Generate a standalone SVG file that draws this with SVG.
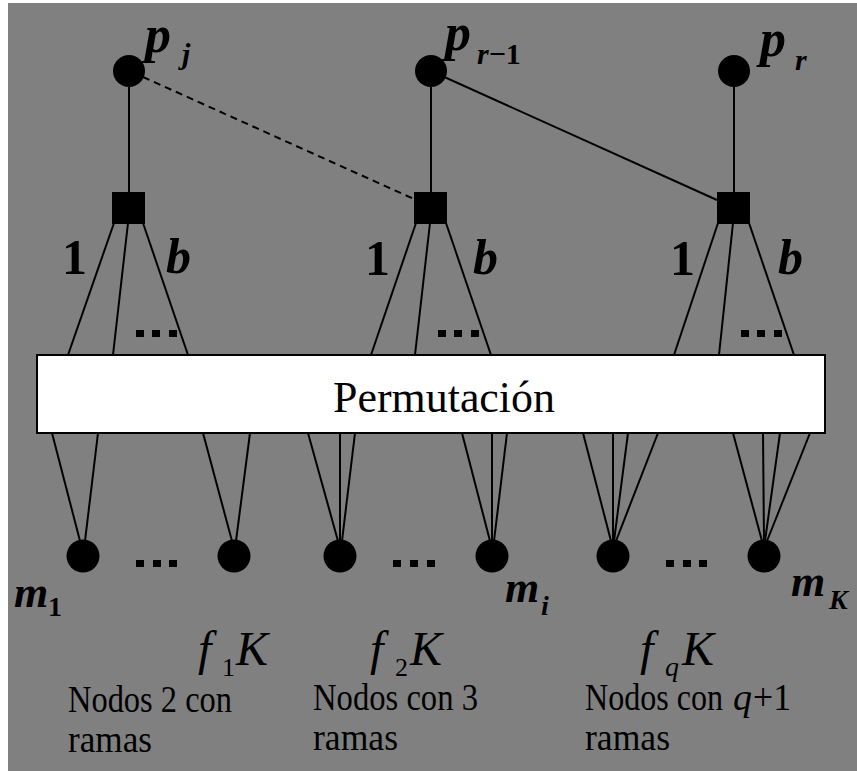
<svg xmlns="http://www.w3.org/2000/svg" width="857" height="771" viewBox="0 0 857 771">
<style>
.ln{stroke:#000;stroke-width:2;fill:none}
.dash{stroke:#000;stroke-width:2;fill:none;stroke-dasharray:7 5}
.nd{fill:#000}
.mi{font-family:"Liberation Serif","Times New Roman",serif;font-style:italic;font-weight:bold;fill:#000}
.bd{font-family:"Liberation Serif","Times New Roman",serif;font-weight:bold;fill:#000}
.rg{font-family:"Liberation Serif","Times New Roman",serif;fill:#000}
.it{font-family:"Liberation Serif","Times New Roman",serif;font-style:italic;fill:#000}
</style>
<rect x="0" y="0" width="857" height="771" fill="#fff"/>
<rect x="8" y="3" width="849" height="768" fill="#808080"/>

<g id="connectors">
  <line class="ln" x1="129" y1="71" x2="129" y2="192"/>
  <line class="ln" x1="431" y1="71" x2="431" y2="192"/>
  <line class="ln" x1="734" y1="71" x2="734" y2="192"/>
  <line class="dash" x1="143" y1="77" x2="414" y2="199"/>
  <line class="ln" x1="431" y1="71" x2="717" y2="200"/>
  <line class="ln" x1="114" y1="223" x2="68" y2="355"/>
  <line class="ln" x1="128" y1="223" x2="113" y2="355"/>
  <line class="ln" x1="143" y1="223" x2="188" y2="355"/>
  <line class="ln" x1="416" y1="223" x2="371" y2="355"/>
  <line class="ln" x1="430" y1="223" x2="415" y2="355"/>
  <line class="ln" x1="446" y1="223" x2="491" y2="355"/>
  <line class="ln" x1="718" y1="223" x2="674" y2="355"/>
  <line class="ln" x1="733" y1="223" x2="719" y2="355"/>
  <line class="ln" x1="749" y1="223" x2="794" y2="355"/>
  <line class="ln" x1="52" y1="433" x2="80" y2="541"/>
  <line class="ln" x1="98" y1="433" x2="85" y2="541"/>
  <line class="ln" x1="203" y1="433" x2="232" y2="541"/>
  <line class="ln" x1="250" y1="433" x2="236" y2="541"/>
  <line class="ln" x1="308" y1="433" x2="338" y2="541"/>
  <line class="ln" x1="340" y1="433" x2="340" y2="541"/>
  <line class="ln" x1="355" y1="433" x2="342" y2="541"/>
  <line class="ln" x1="462" y1="433" x2="490" y2="541"/>
  <line class="ln" x1="492" y1="433" x2="492" y2="541"/>
  <line class="ln" x1="507" y1="433" x2="494" y2="541"/>
  <line class="ln" x1="583" y1="433" x2="611" y2="541"/>
  <line class="ln" x1="613" y1="433" x2="613" y2="541"/>
  <line class="ln" x1="628" y1="433" x2="614" y2="541"/>
  <line class="ln" x1="658" y1="433" x2="616" y2="541"/>
  <line class="ln" x1="733" y1="433" x2="762" y2="541"/>
  <line class="ln" x1="763" y1="433" x2="764" y2="541"/>
  <line class="ln" x1="780" y1="433" x2="765" y2="541"/>
  <line class="ln" x1="810" y1="433" x2="767" y2="541"/>
</g>

<g id="p_j"><circle class="nd" cx="129" cy="71" r="16"/>
  <text class="mi" x="145" y="52" font-size="52">p</text><text class="mi" x="182" y="64" font-size="30">j</text></g>
<g id="p_r-1"><circle class="nd" cx="431" cy="71" r="16"/>
  <text class="mi" x="445" y="50" font-size="52">p</text><text class="mi" x="477" y="64" font-size="30">r<tspan class="bd" font-style="normal">−1</tspan></text></g>
<g id="p_r"><circle class="nd" cx="734" cy="71" r="16"/>
  <text class="mi" x="760" y="56" font-size="52">p</text><text class="mi" x="795" y="70" font-size="30">r</text></g>

<g id="check1"><rect class="nd" x="112" y="192" width="33" height="32"/>
  <text class="bd" x="62" y="274" font-size="50">1</text><text class="mi" x="166" y="273" font-size="50">b</text>
  <rect class="nd" x="136" y="330" width="8" height="7"/><rect class="nd" x="152" y="330" width="8" height="7"/><rect class="nd" x="169" y="330" width="8" height="7"/></g>
<g id="check2"><rect class="nd" x="414" y="192" width="33" height="32"/>
  <text class="bd" x="365" y="275" font-size="50">1</text><text class="mi" x="473" y="274" font-size="50">b</text>
  <rect class="nd" x="438" y="330" width="8" height="7"/><rect class="nd" x="454" y="330" width="8" height="7"/><rect class="nd" x="471" y="330" width="8" height="7"/></g>
<g id="check3"><rect class="nd" x="717" y="192" width="33" height="32"/>
  <text class="bd" x="670" y="275" font-size="50">1</text><text class="mi" x="778" y="274" font-size="50">b</text>
  <rect class="nd" x="741" y="330" width="8" height="7"/><rect class="nd" x="757" y="330" width="8" height="7"/><rect class="nd" x="774" y="330" width="8" height="7"/></g>

<g id="permutacion"><rect x="37" y="355" width="788" height="78" fill="#fff" stroke="#000" stroke-width="2"/>
  <text class="rg" x="444" y="412" font-size="44" text-anchor="middle" textLength="222" lengthAdjust="spacingAndGlyphs">Permutación</text></g>

<g id="m_group1">
  <circle class="nd" cx="83" cy="556" r="16.5"/><circle class="nd" cx="234" cy="556" r="16.5"/>
  <rect class="nd" x="136" y="560" width="8" height="7"/><rect class="nd" x="153" y="560" width="8" height="7"/><rect class="nd" x="169" y="560" width="8" height="7"/>
  <text class="mi" x="14" y="607" font-size="44">m</text><text class="bd" x="48" y="616" font-size="28">1</text>
  <text class="it" x="198" y="665" font-size="48">f</text><text class="rg" x="222" y="676" font-size="26">1</text><text class="it" x="236" y="665" font-size="48">K</text>
  <text class="rg" x="68" y="712" font-size="38" textLength="164" lengthAdjust="spacingAndGlyphs">Nodos 2 con</text>
  <text class="rg" x="68" y="752" font-size="38" textLength="84" lengthAdjust="spacingAndGlyphs">ramas</text>
</g>
<g id="m_group2">
  <circle class="nd" cx="340" cy="556" r="16.5"/><circle class="nd" cx="492" cy="556" r="16.5"/>
  <rect class="nd" x="393" y="560" width="8" height="7"/><rect class="nd" x="410" y="560" width="8" height="7"/><rect class="nd" x="427" y="560" width="8" height="7"/>
  <text class="mi" x="505" y="602" font-size="44">m</text><text class="mi" x="541" y="615" font-size="28">i</text>
  <text class="it" x="370" y="665" font-size="48">f</text><text class="rg" x="395" y="676" font-size="26">2</text><text class="it" x="410" y="665" font-size="48">K</text>
  <text class="rg" x="313" y="710" font-size="38" textLength="165" lengthAdjust="spacingAndGlyphs">Nodos con 3</text>
  <text class="rg" x="313" y="750" font-size="38" textLength="85" lengthAdjust="spacingAndGlyphs">ramas</text>
</g>
<g id="m_group3">
  <circle class="nd" cx="613" cy="556" r="16.5"/><circle class="nd" cx="764" cy="556" r="16.5"/>
  <rect class="nd" x="666" y="560" width="8" height="7"/><rect class="nd" x="683" y="560" width="8" height="7"/><rect class="nd" x="699" y="560" width="8" height="7"/>
  <text class="mi" x="791" y="596" font-size="44">m</text><text class="mi" x="829" y="609" font-size="28">K</text>
  <text class="it" x="640" y="665" font-size="48">f</text><text class="it" x="665" y="676" font-size="28">q</text><text class="it" x="682" y="665" font-size="48">K</text>
  <text class="rg" x="585" y="710" font-size="38" textLength="138" lengthAdjust="spacingAndGlyphs">Nodos con</text>
  <text class="it" x="733" y="710" font-size="38">q</text>
  <text class="rg" x="753" y="710" font-size="38" textLength="38" lengthAdjust="spacingAndGlyphs">+1</text>
  <text class="rg" x="585" y="750" font-size="38" textLength="85" lengthAdjust="spacingAndGlyphs">ramas</text>
</g>
</svg>
